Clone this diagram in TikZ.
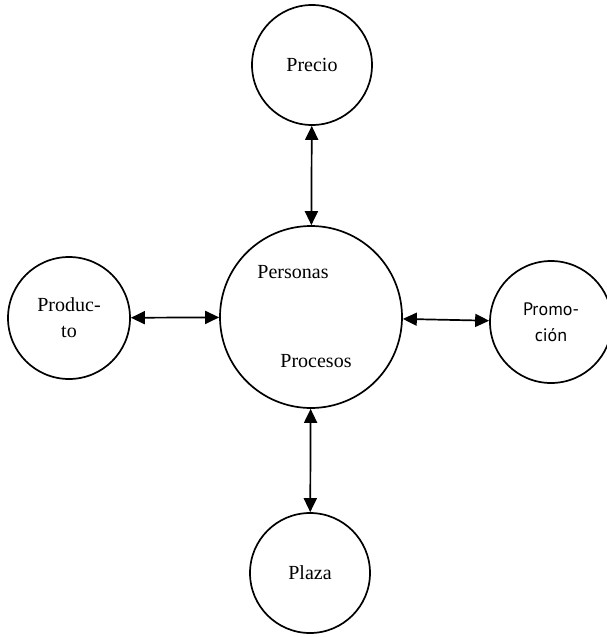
\documentclass[tikz,border=0pt]{standalone}
\usepackage{fontspec}
\setmainfont{Liberation Serif}
\newfontfamily\labelsans{PT Sans}
\usetikzlibrary{arrows.meta}
\tikzset{
  ring/.style={circle, draw, line width=1.7pt, inner sep=0pt,
    font=\fontsize{20}{26}\selectfont, align=center},
  link/.style={line width=1.7pt, {Triangle[length=14pt,width=13pt]}-{Triangle[length=14pt,width=13pt]}},
  word/.style={font=\fontsize{20}{26}\selectfont, inner sep=0pt}
}
\begin{document}
\begin{tikzpicture}[x=1pt, y=-1pt]
  \useasboundingbox (0,0) rectangle (606,637);
  % the five marketing elements
  \node[ring, minimum size=120pt] (precio) at (312,65) {Precio};
  \node[ring, minimum size=182pt] (centro) at (311,317) {};
  \node[ring, minimum size=122pt] (producto) at (69,318) {Produc-\\to};
  \node[ring, minimum size=122pt, font=\labelsans\fontsize{18}{26}\selectfont] (promocion) at (551,322) {Promo-\\ción};
  \node[ring, minimum size=120pt] (plaza) at (310,573) {Plaza};
  % labels inside the central circle
  \node[word] (personas) at (293,272) {Personas};
  \node[word] (procesos) at (316,361) {Procesos};
  % two-way links
  \draw[link] (precio) -- (centro);
  \draw[link] (producto) -- (centro);
  \draw[link] (centro) -- (promocion);
  \draw[link] (centro) -- (plaza);
\end{tikzpicture}
\end{document}
